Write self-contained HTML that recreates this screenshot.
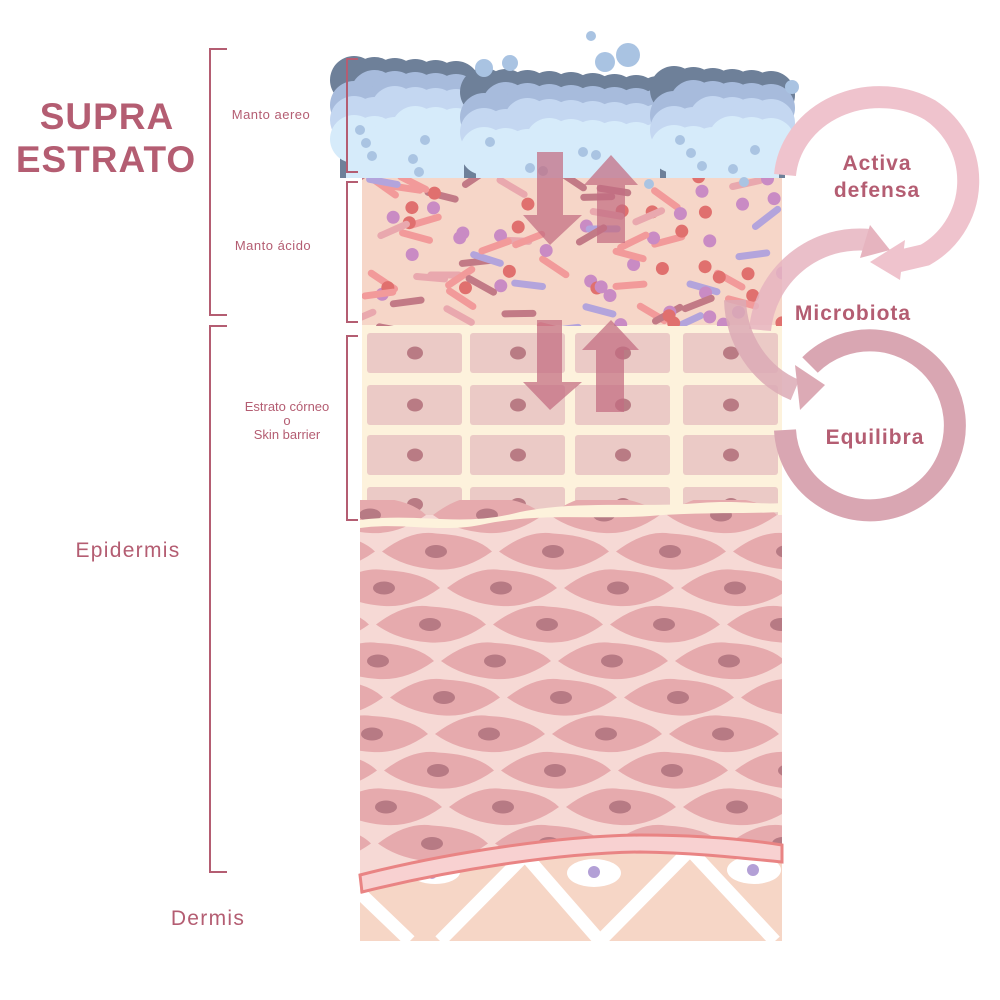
<!DOCTYPE html>
<html><head><meta charset="utf-8"><style>
html,body{margin:0;padding:0;background:#fff;width:1000px;height:1000px;overflow:hidden}
svg{display:block}
text{font-family:"Liberation Sans",sans-serif;fill:#b45d72}
</style></head><body>
<svg id="s" width="1000" height="1000" viewBox="0 0 1000 1000" xmlns="http://www.w3.org/2000/svg">
<defs>
<clipPath id="acid"><rect x="362" y="178" width="420" height="148"/></clipPath>
<clipPath id="epi"><rect x="360" y="500" width="422" height="380"/></clipPath>
<clipPath id="der"><rect x="360" y="840" width="422" height="101"/></clipPath>
</defs>
<rect x="362" y="178" width="420" height="148" fill="#f6d6c8"/>
<rect x="362" y="325" width="420" height="200" fill="#fdf2dc"/>
<g id="acidg" clip-path="url(#acid)"></g>
<g id="corn"></g>
<rect x="360" y="515" width="422" height="360" fill="#f6d9d5"/>
<g id="epig" clip-path="url(#epi)"></g>
<path d="M360 520 C420 512 460 528 520 512 C580 500 640 508 700 503 C740 500 760 505 782 503 L782 512 C740 514 700 512 650 516 C590 520 540 512 480 525 C440 533 400 522 360 528Z" fill="#fdf2dc"/>
<g clip-path="url(#der)">
<path d="M360 880 C450 855 600 835 782 850 L782 941 L360 941Z" fill="#f6d6c6"/>
<g stroke="#fff" stroke-width="13" fill="none">
<path d="M360 893 L410 941 M440 941 L525 855 M525 855 L600 941 M600 941 L690 850 M690 850 L775 941"/>
</g>
<g fill="#fff"><ellipse cx="435" cy="872" rx="25" ry="12"/><ellipse cx="594" cy="873" rx="27" ry="14"/><ellipse cx="754" cy="870" rx="27" ry="14"/></g>
<g fill="#b3a0d6"><circle cx="432" cy="874" r="5"/><circle cx="594" cy="872" r="6"/><circle cx="753" cy="870" r="6"/></g>
</g>
<path d="M360 875 C450 852 560 836 640 835 C700 835 750 840 782 845 L782 862 C740 858 700 853 640 852 C560 853 450 870 362 892Z" fill="#f8d1d1" stroke="#e98484" stroke-width="3"/>
<g id="clouds"></g>
<g fill="#c36d82" opacity="0.72">
<path d="M537 152 H563 V215 H582 L550 245 L523 215 H537Z"/>
<path d="M597 243 H625 V185 H638 L611 155 L584 185 H597Z"/>
<path d="M537 320 H562 V382 H582 L550 410 L523 382 H537Z"/>
<path d="M596 412 H624 V350 H639 L611 320 L582 350 H596Z"/>
</g>
<g fill="none" stroke-width="22">
<path d="M785 175 A95 85 0 0 1 930 110 A85 85 0 0 1 925 255 L895 262" stroke="#efc3cd"/>
<path d="M760 330 A100 100 0 0 1 870 240" stroke="#e6b4bf" opacity="0.85"/>
<path d="M735 300 A95 100 0 0 0 795 390" stroke="#dcaab5" opacity="0.85"/>
<path d="M810 365 A85 85 0 1 1 785 430" stroke="#d9a6b2"/>
</g>
<g>
<path d="M870 262 L905 240 L900 280Z" fill="#efc3cd"/>
<path d="M870 225 L890 250 L860 258Z" fill="#e6b4bf"/>
<path d="M795 365 L825 385 L800 410Z" fill="#dcaab5"/>
</g>
<g stroke="#b45d72" stroke-width="2" fill="none">
<path d="M227 49 H210 V315 H227"/>
<path d="M227 326 H210 V872 H227"/>
<path d="M358 59 H347 V172 H358"/>
<path d="M358 182 H347 V322 H358"/>
<path d="M358 336 H347 V520 H358"/>
</g>
<text x="107" y="129" font-size="37" font-weight="bold" text-anchor="middle" letter-spacing="1">SUPRA</text>
<text x="106" y="172" font-size="37" font-weight="bold" text-anchor="middle" letter-spacing="1">ESTRATO</text>
<text x="271" y="119" font-size="13" text-anchor="middle" letter-spacing="0.5">Manto aereo</text>
<text x="273" y="250" font-size="13" text-anchor="middle" letter-spacing="0.5">Manto ácido</text>
<text x="287" y="411" font-size="13" text-anchor="middle">Estrato córneo</text>
<text x="287" y="425" font-size="13" text-anchor="middle">o</text>
<text x="287" y="439" font-size="13" text-anchor="middle">Skin barrier</text>
<text x="128" y="557" font-size="21" text-anchor="middle" letter-spacing="1.3">Epidermis</text>
<text x="208" y="925" font-size="21" text-anchor="middle" letter-spacing="1.3">Dermis</text>
<text x="877" y="170" font-size="21" font-weight="bold" text-anchor="middle" letter-spacing="1">Activa</text>
<text x="877" y="197" font-size="21" font-weight="bold" text-anchor="middle" letter-spacing="1">defensa</text>
<text x="853" y="320" font-size="21" font-weight="bold" text-anchor="middle" letter-spacing="1">Microbiota</text>
<text x="875" y="444" font-size="21" font-weight="bold" text-anchor="middle" letter-spacing="1">Equilibra</text>
</svg>
<script>
var NS="http://www.w3.org/2000/svg";
function el(p,t,a){var e=document.createElementNS(NS,t);for(var k in a)e.setAttribute(k,a[k]);p.appendChild(e);return e;}
var seed=7;function r(){seed=(seed*16807)%2147483647;return seed/2147483647;}
var g=document.getElementById('acidg');
var rods=["#c27a86","#b3a4dc","#e9a8ae","#f29a9a"],dots=["#e0706e","#c98bc4"];
for(var i=0;i<105;i++){var x=360+r()*425,y=175+r()*155;
 if(r()<0.55){var a=(r()-0.5)*80,c=rods[Math.floor(r()*4)];
  el(g,'line',{x1:x-14,y1:y,x2:x+14,y2:y,stroke:c,'stroke-width':7,'stroke-linecap':'round',transform:'rotate('+a+' '+x+' '+y+')'});}
 else el(g,'circle',{cx:x,cy:y,r:6.5,fill:dots[Math.floor(r()*2)]});}
var cg=document.getElementById('corn');
var cx=[367,470,575,683],rw=[[333,373],[385,425],[435,475],[487,522]];
rw.forEach(function(rr){cx.forEach(function(x){el(cg,'rect',{x:x,y:rr[0],width:95,height:rr[1]-rr[0],rx:3,fill:'#ebcac6'});
 el(cg,'ellipse',{cx:x+48,cy:(rr[0]+rr[1])/2,rx:8,ry:6.5,fill:'#b97b84'});});});
var eg=document.getElementById('epig');
for(var row=0;row<10;row++){var y=515+row*36.5,off=(row%2)?-58:0;
 for(var k=0;k<6;k++){var x=370+off+k*117+(row*7)%20;
  el(eg,'path',{d:'M'+(x-54)+' '+y+' Q'+(x-25)+' '+(y-22)+' '+x+' '+(y-18)+' Q'+(x+40)+' '+(y-16)+' '+(x+56)+' '+y+' Q'+(x+28)+' '+(y+20)+' '+x+' '+(y+18)+' Q'+(x-32)+' '+(y+16)+' '+(x-54)+' '+y+'Z',fill:'#e6aaad'});
  el(eg,'ellipse',{cx:x,cy:y,rx:11,ry:6.5,fill:'#b77a84'});}}
var cl=document.getElementById('clouds');
function clump(x0,x1,top){var layers=[["#6e8099",0],["#a7bbdc",14],["#c4d7f1",30],["#d6ebfa",50]];
 layers.forEach(function(L,li){var n=Math.round((x1-x0)/26);for(var i=0;i<=n;i++){var x=x0+14+i*(x1-x0-28)/n;
  el(cl,'circle',{cx:x,cy:top+L[1]+20+((i*37+li*11)%12),r:24,fill:L[0]});}
  el(cl,'rect',{x:x0+(li?6:0),y:top+L[1]+22,width:x1-x0-(li?12:0),height:178-(top+L[1]+22),fill:L[0]});});
 for(var j=0;j<6;j++)el(cl,'circle',{cx:x0+20+((j*53)%(x1-x0-30)),cy:top+70+((j*29)%45),r:5,fill:'#aac4e2'});}
clump(340,470,60);clump(470,672,72);clump(660,785,70);
[[484,68,9],[510,63,8],[591,36,5],[605,62,10],[628,55,12],[792,87,7]].forEach(function(b){el(cl,'circle',{cx:b[0],cy:b[1],r:b[2],fill:'#a9c3e2'});});
</script>
</body></html>
